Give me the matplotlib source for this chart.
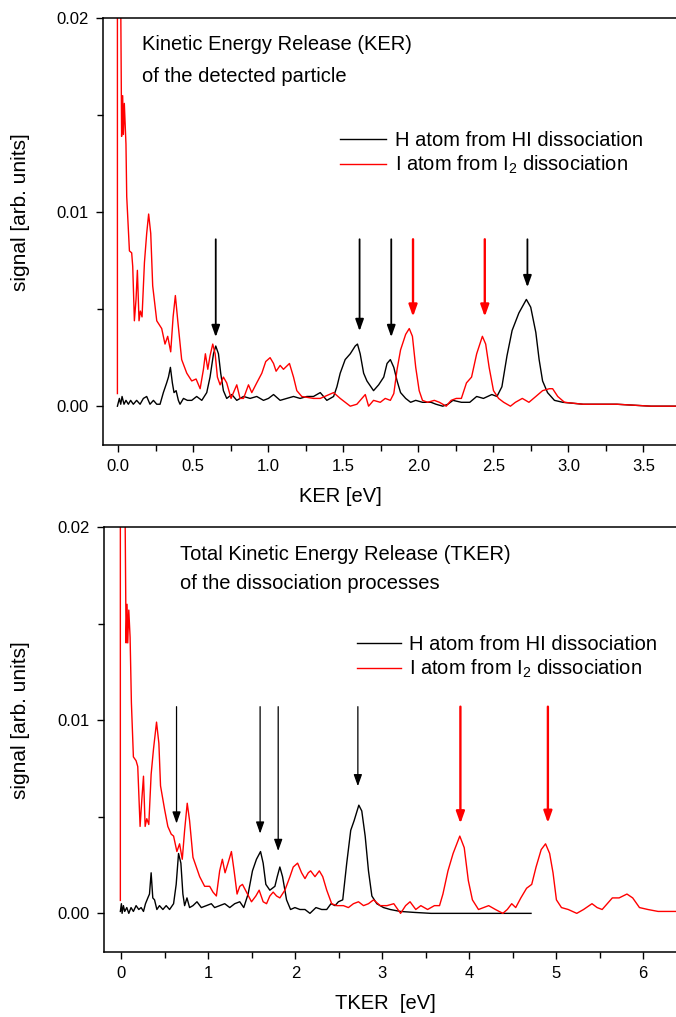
import numpy as np
import matplotlib.pyplot as plt
from matplotlib.ticker import MultipleLocator

plt.rcParams['font.family'] = ['Liberation Sans', 'DejaVu Sans']
plt.rcParams['mathtext.default'] = 'regular'

# --- KER of the detected particle (top panel) ---
ker_H_x = [-0.004, 0.009, 0.018, 0.027, 0.04, 0.053, 0.069, 0.084, 0.102, 0.124, 0.147, 0.169,
           0.191, 0.213, 0.236, 0.258, 0.28, 0.302, 0.324, 0.336, 0.349, 0.362, 0.373, 0.387,
           0.402, 0.413, 0.436, 0.462, 0.491, 0.524, 0.558, 0.591, 0.613, 0.636, 0.651, 0.669,
           0.684, 0.702, 0.724, 0.758, 0.791, 0.836, 0.88, 0.924, 0.969, 1.002, 1.036, 1.08,
           1.124, 1.169, 1.213, 1.258, 1.302, 1.347, 1.391, 1.436, 1.458, 1.48, 1.513, 1.547,
           1.58, 1.595, 1.613, 1.636, 1.658, 1.702, 1.736, 1.77, 1.792, 1.814, 1.837, 1.859,
           1.882, 1.916, 1.949, 1.983, 2.028, 2.085, 2.118, 2.163, 2.197, 2.231, 2.287, 2.343,
           2.389, 2.434, 2.49, 2.524, 2.557, 2.591, 2.625, 2.67, 2.72, 2.749, 2.783, 2.805,
           2.828, 2.861, 2.907, 2.963, 3.098, 3.323, 3.549, 3.75]
ker_H_y = [0.0, 0.0004, 0.0001, 0.0005, 0.0001, 0.0003, 0.0001, 0.0003, 0.0001, 0.0003, 0.0001, 0.0004,
           0.0005, 0.0001, 0.0003, 0.0001, 0.0001, 0.0007, 0.0012, 0.0015, 0.0020, 0.0012, 0.0007, 0.0008,
           0.0003, 0.0001, 0.0004, 0.0003, 0.0003, 0.0005, 0.0003, 0.0007, 0.0015, 0.0027, 0.0031, 0.0027,
           0.0017, 0.0008, 0.0004, 0.0006, 0.0003, 0.0005, 0.0004, 0.0005, 0.0003, 0.0004, 0.0006, 0.0003,
           0.0004, 0.0005, 0.0004, 0.0005, 0.0005, 0.0007, 0.0003, 0.0005, 0.0010, 0.0017, 0.0024, 0.0027,
           0.0031, 0.0032, 0.0027, 0.0017, 0.0013, 0.0008, 0.0011, 0.0015, 0.0022, 0.0024, 0.0020, 0.0013,
           0.0007, 0.0004, 0.0002, 0.0003, 0.0002, 0.0002, 0.0001, 0.0, 0.0001, 0.0003, 0.0002, 0.0002,
           0.0005, 0.0004, 0.0006, 0.0005, 0.0010, 0.0026, 0.0039, 0.0048, 0.0055, 0.0051, 0.0038, 0.0024,
           0.0013, 0.0007, 0.0003, 0.0002, 0.0001, 0.0001, 0.0, 0.0]

ker_I_x = [-0.004, -0.004, 0.018, 0.024, 0.031, 0.036, 0.042, 0.053, 0.058, 0.076, 0.091, 0.098,
           0.109, 0.12, 0.129, 0.14, 0.149, 0.16, 0.176, 0.191, 0.204, 0.218, 0.231, 0.258,
           0.291, 0.313, 0.331, 0.351, 0.367, 0.382, 0.398, 0.424, 0.458, 0.491, 0.52, 0.547,
           0.569, 0.582, 0.598, 0.613, 0.631, 0.647, 0.662, 0.68, 0.702, 0.724, 0.753, 0.769,
           0.791, 0.813, 0.836, 0.869, 0.891, 0.924, 0.958, 0.984, 1.013, 1.036, 1.053, 1.08,
           1.102, 1.142, 1.169, 1.191, 1.224, 1.302, 1.347, 1.436, 1.48, 1.547, 1.591, 1.647,
           1.669, 1.702, 1.747, 1.78, 1.814, 1.837, 1.859, 1.882, 1.916, 1.94, 1.961, 1.983,
           2.006, 2.028, 2.062, 2.107, 2.141, 2.186, 2.219, 2.253, 2.287, 2.321, 2.355, 2.389,
           2.427, 2.449, 2.472, 2.501, 2.535, 2.569, 2.614, 2.647, 2.693, 2.737, 2.783, 2.828,
           2.873, 2.895, 2.929, 2.974, 3.098, 3.323, 3.549, 3.75]
ker_I_y = [0.00065, 0.021, 0.021, 0.0139, 0.0160, 0.0140, 0.0156, 0.0135, 0.0108, 0.0080, 0.0079, 0.0072,
           0.0044, 0.0055, 0.0070, 0.0044, 0.0049, 0.0046, 0.0074, 0.0089, 0.0099, 0.0089, 0.0062, 0.0044,
           0.0040, 0.0032, 0.0036, 0.0028, 0.0046, 0.0057, 0.0044, 0.0024, 0.0017, 0.0013, 0.0014, 0.0009,
           0.0019, 0.0027, 0.0019, 0.0026, 0.0032, 0.0027, 0.0015, 0.0011, 0.0015, 0.0012, 0.0004, 0.0007,
           0.0011, 0.0004, 0.0004, 0.0011, 0.0007, 0.0012, 0.0017, 0.0023, 0.0025, 0.0022, 0.0018, 0.0021,
           0.0019, 0.0022, 0.0015, 0.0008, 0.0005, 0.0004, 0.0004, 0.0007, 0.0004, 0.0000, 0.0001, 0.0006,
           0.0000, 0.0003, 0.0002, 0.0004, 0.0003, 0.00065, 0.0019, 0.0029, 0.0037, 0.0040, 0.0036, 0.0020,
           0.0008, 0.0003, 0.0002, 0.0003, 0.0002, 0.0000, 0.0003, 0.0004, 0.0004, 0.0012, 0.0015, 0.0027,
           0.0036, 0.0032, 0.0020, 0.0008, 0.0004, 0.0002, 0.0000, 0.0002, 0.0004, 0.0002, 0.0005, 0.0008,
           0.0009, 0.0009, 0.0005, 0.0002, 0.0001, 0.0001, 0.0, 0.0]

# arrows marking the peaks (x position, arrow tip height)
ker_arrow_H_x = [0.651, 1.609, 1.82, 2.727]
ker_arrow_H_tip = [0.00356, 0.00387, 0.00356, 0.00613]
ker_arrow_I_x = [1.965, 2.443]
ker_arrow_I_tip = [0.00461, 0.00461]
ker_arrow_top = 0.0086

# --- TKER of the dissociation processes (bottom panel) ---
tker_H_x = [-0.012, 0.0, 0.008, 0.023, 0.038, 0.062, 0.085, 0.111, 0.138, 0.169, 0.2, 0.227,
            0.254, 0.277, 0.304, 0.323, 0.342, 0.361, 0.381, 0.408, 0.438, 0.477, 0.515, 0.554,
            0.6, 0.63, 0.657, 0.684, 0.707, 0.727, 0.754, 0.784, 0.823, 0.869, 0.919, 0.977,
            1.034, 1.072, 1.13, 1.188, 1.246, 1.303, 1.361, 1.407, 1.457, 1.507, 1.553, 1.6,
            1.63, 1.661, 1.707, 1.765, 1.792, 1.822, 1.853, 1.899, 1.945, 1.995, 2.053, 2.111,
            2.168, 2.237, 2.303, 2.361, 2.41, 2.457, 2.495, 2.545, 2.591, 2.637, 2.676, 2.73,
            2.764, 2.803, 2.841, 2.88, 2.937, 3.014, 3.091, 3.206, 3.366, 3.56, 3.755, 4.145, 4.71]
tker_H_y = [0.0001, 0.0005, 0.0, 0.0004, 0.0001, 0.0003, 0.0, 0.0003, 0.0001, 0.0004, 0.0002, 0.0003,
            0.0001, 0.0005, 0.0008, 0.0010, 0.0021, 0.0008, 0.0007, 0.0002, 0.0004, 0.0002, 0.0004, 0.0002,
            0.0005, 0.0015, 0.0031, 0.0026, 0.0010, 0.0004, 0.0008, 0.0003, 0.0004, 0.0006, 0.0003, 0.0004,
            0.0005, 0.0003, 0.0004, 0.0005, 0.0003, 0.0005, 0.0006, 0.0003, 0.0010, 0.0022, 0.0028, 0.0032,
            0.0026, 0.0015, 0.0012, 0.0014, 0.0019, 0.0024, 0.0019, 0.0007, 0.0002, 0.0003, 0.0002, 0.0002,
            0.0, 0.0003, 0.0002, 0.0002, 0.0005, 0.0004, 0.0006, 0.0007, 0.0026, 0.0043, 0.0048, 0.0056,
            0.0053, 0.0040, 0.0022, 0.0009, 0.0005, 0.0003, 0.0002, 0.0001, 0.00005, 0.0, 0.0, 0.0, 0.0]

tker_I_x = [-0.012, -0.012, 0.042, 0.054, 0.065, 0.073, 0.085, 0.1, 0.115, 0.138, 0.169, 0.188,
            0.215, 0.235, 0.254, 0.273, 0.292, 0.315, 0.342, 0.369, 0.404, 0.431, 0.45, 0.496,
            0.534, 0.573, 0.6, 0.638, 0.669, 0.70, 0.727, 0.757, 0.784, 0.823, 0.861, 0.9,
            0.957, 1.015, 1.053, 1.092, 1.13, 1.161, 1.192, 1.226, 1.265, 1.296, 1.33, 1.361,
            1.392, 1.438, 1.496, 1.546, 1.584, 1.63, 1.669, 1.707, 1.745, 1.784, 1.822, 1.88,
            1.938, 1.976, 2.026, 2.072, 2.111, 2.149, 2.176, 2.226, 2.276, 2.315, 2.361, 2.418,
            2.476, 2.553, 2.61, 2.668, 2.726, 2.784, 2.841, 2.899, 2.976, 3.054, 3.132, 3.21,
            3.268, 3.319, 3.385, 3.443, 3.521, 3.599, 3.658, 3.697, 3.755, 3.814, 3.891, 3.942,
            3.989, 4.036, 4.106, 4.164, 4.223, 4.301, 4.386, 4.437, 4.488, 4.534, 4.593, 4.659,
            4.718, 4.768, 4.827, 4.877, 4.924, 4.963, 5.002, 5.06, 5.138, 5.236, 5.314, 5.411,
            5.47, 5.528, 5.586, 5.645, 5.723, 5.813, 5.879, 5.957, 6.054, 6.171, 6.45]
tker_I_y = [0.00067, 0.021, 0.021, 0.0140, 0.0160, 0.0140, 0.0157, 0.0143, 0.0109, 0.0081, 0.0079, 0.0076,
            0.0045, 0.0059, 0.0071, 0.0045, 0.0049, 0.0046, 0.0072, 0.0085, 0.0099, 0.0088, 0.0066, 0.0054,
            0.0045, 0.0041, 0.0040, 0.0032, 0.0036, 0.0028, 0.0043, 0.0057, 0.0048, 0.0029, 0.0024, 0.0019,
            0.0014, 0.0014, 0.0011, 0.0009, 0.0022, 0.0028, 0.0021, 0.0026, 0.0032, 0.0022, 0.0010, 0.0014,
            0.0015, 0.0011, 0.0006, 0.0009, 0.0012, 0.0006, 0.0005, 0.0009, 0.0011, 0.0009, 0.0008, 0.0012,
            0.0019, 0.0024, 0.0026, 0.0021, 0.0018, 0.0021, 0.0022, 0.0019, 0.0022, 0.0019, 0.0012, 0.0005,
            0.0004, 0.0004, 0.0003, 0.0005, 0.0006, 0.0004, 0.0005, 0.0007, 0.0004, 0.0004, 0.0005, 0.0000,
            0.0004, 0.0006, 0.0002, 0.0004, 0.0002, 0.0004, 0.0004, 0.0010, 0.0022, 0.0031, 0.0040, 0.0034,
            0.0017, 0.0007, 0.0002, 0.0003, 0.0004, 0.0002, 0.0000, 0.0002, 0.0005, 0.0003, 0.0008, 0.0013,
            0.0015, 0.0024, 0.0033, 0.0036, 0.0031, 0.0021, 0.0007, 0.0003, 0.0002, 0.0000, 0.0002, 0.0005,
            0.0003, 0.0002, 0.0005, 0.0008, 0.0008, 0.0010, 0.0008, 0.0003, 0.0002, 0.0001, 0.0001]

tker_arrow_H_x = [0.634, 1.595, 1.803, 2.719]
tker_arrow_H_tip = [0.00465, 0.00413, 0.00323, 0.00658]
tker_arrow_I_x = [3.898, 4.904]
tker_arrow_I_tip = [0.00465, 0.00468]
tker_arrow_top = 0.0107

label_H = 'H atom from HI dissociation'
label_I = 'I atom from I$_2$ dissociation'

W, H = 676, 1017
fig = plt.figure(figsize=(W / 100, H / 100), dpi=100)

def px_axes(left, top, right, bottom):
    return fig.add_axes([left / W, 1 - bottom / H, (right - left) / W, (bottom - top) / H])

ax1 = px_axes(103, 18, 681, 445)
ax2 = px_axes(104, 527, 678, 952)


def style(ax, xlim, major, minor):
    ax.set_xlim(*xlim)
    ax.set_ylim(-0.002, 0.02)
    ax.xaxis.set_major_locator(MultipleLocator(major))
    ax.xaxis.set_minor_locator(MultipleLocator(minor))
    ax.yaxis.set_major_locator(MultipleLocator(0.01))
    ax.yaxis.set_minor_locator(MultipleLocator(0.005))
    ax.yaxis.set_major_formatter(plt.FormatStrFormatter('%.2f'))
    ax.tick_params(which='both', direction='out', top=False, right=False, labelsize=12, width=1)
    ax.tick_params(which='major', length=5, pad=5)
    ax.tick_params(which='minor', length=4)
    ax.spines['right'].set_visible(False)
    for s in ['left', 'bottom', 'top']:
        ax.spines[s].set_linewidth(1.1)


def arrows(ax, xs, tips, top, color, lw):
    for x, tip in zip(xs, tips):
        ax.annotate('', xy=(x, tip), xytext=(x, top),
                    arrowprops=dict(arrowstyle='-|>,head_length=0.7,head_width=0.25',
                                    color=color, lw=lw, shrinkA=0, shrinkB=0, mutation_scale=10))


# top panel
ax1.plot(ker_H_x, ker_H_y, color='black', lw=1.0, label=label_H)
ax1.plot(ker_I_x, ker_I_y, color='red', lw=1.0, label=label_I)
style(ax1, (-0.1, 3.75), 0.5, 0.25)
ax1.xaxis.set_major_formatter(plt.FormatStrFormatter('%.1f'))
arrows(ax1, ker_arrow_H_x, ker_arrow_H_tip, ker_arrow_top, 'black', 1.3)
arrows(ax1, ker_arrow_I_x, ker_arrow_I_tip, ker_arrow_top, 'red', 1.7)
ax1.set_xlabel('KER [eV]', fontsize=14.5)
ax1.xaxis.set_label_coords((340 - 103) / 578, -42 / 427)
ax1.set_ylabel('signal [arb. units]', fontsize=15)
ax1.yaxis.set_label_coords((30 - 103) / 578, 0.545)
fig.text(142 / W, 1 - 50 / H, 'Kinetic Energy Release (KER)', fontsize=14.5, va='baseline')
fig.text(142 / W, 1 - 82 / H, 'of the detected particle', fontsize=14.5, va='baseline')
ax1.legend(loc='upper left', bbox_to_anchor=(340 / W, 1 - 131 / H), bbox_transform=fig.transFigure,
           frameon=False, fontsize=14.5, borderpad=0, handlelength=2.3, handletextpad=0.45,
           labelspacing=0.2, borderaxespad=0)

# bottom panel
ax2.plot(tker_H_x, tker_H_y, color='black', lw=1.0, label=label_H)
ax2.plot(tker_I_x, tker_I_y, color='red', lw=1.0, label=label_I)
style(ax2, (-0.2, 6.4), 1, 0.5)
arrows(ax2, tker_arrow_H_x, tker_arrow_H_tip, tker_arrow_top, 'black', 0.9)
arrows(ax2, tker_arrow_I_x, tker_arrow_I_tip, tker_arrow_top, 'red', 1.7)
ax2.set_xlabel('TKER  [eV]', fontsize=14.5)
ax2.xaxis.set_label_coords((385 - 104) / 574, -42 / 425)
ax2.set_ylabel('signal [arb. units]', fontsize=15)
ax2.yaxis.set_label_coords((30 - 104) / 574, 0.545)
fig.text(180 / W, 1 - 560 / H, 'Total Kinetic Energy Release (TKER)', fontsize=14.5, va='baseline')
fig.text(180 / W, 1 - 589 / H, 'of the dissociation processes', fontsize=14.5, va='baseline')
ax2.legend(loc='upper left', bbox_to_anchor=(357 / W, 1 - 635 / H), bbox_transform=fig.transFigure,
           frameon=False, fontsize=14.5, borderpad=0, handlelength=2.2, handletextpad=0.4,
           labelspacing=0.2, borderaxespad=0)

fig.savefig('out.png', dpi=100)
